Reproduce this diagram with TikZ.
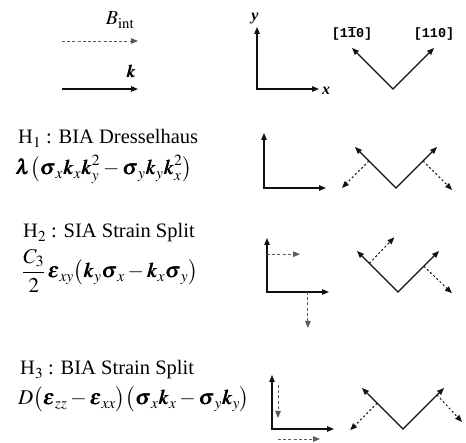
\documentclass[tikz,border=0pt]{standalone}
\usepackage{amsmath}
\usepackage{mathptmx}
\usepackage{bm}
\usepackage{fontspec}
\setmainfont{Liberation Serif}
\newfontfamily\dirfont{Liberation Mono}
\usetikzlibrary{arrows.meta,positioning,calc}
\definecolor{inkdark}{HTML}{111111}
\definecolor{fieldgray}{HTML}{5A5A5A}
\tikzset{
  axes/.style={{Triangle[length=7pt,width=5.5pt]}-{Triangle[length=7pt,width=5.5pt]},
    line width=1.1pt, color=inkdark},
  vec/.style={-{Triangle[length=7pt,width=5.5pt]}, line width=1.1pt, color=inkdark},
  % effective field arrows
  field/.style={-{Triangle[length=7pt,width=5.5pt]}, line width=0.9pt, color=fieldgray,
    dash pattern=on 3pt off 2.2pt},
  spin/.style={-{Triangle[length=7pt,width=5.5pt]}, line width=1pt, color=inkdark,
    dash pattern=on 2pt off 2.4pt},
  htext/.style={font=\fontsize{20.5}{23}\selectfont, inner sep=0pt, anchor=base west},
  mtext/.style={font=\fontsize{21}{24}\selectfont, inner sep=0pt, anchor=base west},
  lbl/.style={font=\fontsize{16}{18}\selectfont, inner sep=0pt},
  dirlbl/.style={font=\dirfont\bfseries\fontsize{13.5}{15}\selectfont, inner sep=0pt},
}

\begin{document}
\begin{tikzpicture}[x=1pt,y=-1pt]
  \useasboundingbox (0,0) rectangle (466,443);
  % legend
  \coordinate (bstart) at (62,41);
  \coordinate (bend) at (138,41);
  \coordinate (kstart) at (62,89);
  \coordinate (kend) at (138,89);
  \draw[field] (bstart) -- (bend);
  \draw[vec] (kstart) -- (kend);
  \node[lbl, anchor=base, font=\fontsize{20}{22}\selectfont] (blab) at (120,25) {$B_{\mathrm{int}}$};
  \node[lbl, anchor=base, font=\fontsize{18}{20}\selectfont] (klab) at (131,78) {$\bm{k}$};
  % axes and crystal directions, one set per row
  \foreach \r/\ox/\oy/\vx/\h in {0/257/89/393/62, 1/264/188/396/55,
                                 2/267/292/398/54, 3/272/429/403/54} {
    \coordinate (o\r) at (\ox,\oy);
    \coordinate (ya\r) at (\ox,\oy-\h);
    \coordinate (xa\r) at (\ox+62,\oy);
    \draw[axes] (ya\r) -- (o\r) -- (xa\r);
    \coordinate (v\r) at (\vx,\oy);
    \coordinate (lt\r) at (\vx-41,\oy-41);
    \coordinate (rt\r) at (\vx+41,\oy-41);
    \draw[axes] (lt\r) -- (v\r) -- (rt\r);
  }
  \node[lbl, anchor=base, font=\bfseries\itshape\fontsize{16}{18}\selectfont] (ylab) at ($(ya0)+(-2,-6)$) {y};
  \node[lbl, anchor=base west, font=\bfseries\itshape\fontsize{16}{18}\selectfont] (xlab) at ($(xa0)+(3,6)$) {x};
  \node[dirlbl, anchor=base] (d1m10) at ($(lt0)+(0,-10)$) {[1$\overline{\mbox{1}}$0]};
  \node[dirlbl, anchor=base] (d110) at ($(rt0)+(0,-10)$) {[110]};
  % H1 spin directions
  \coordinate (s1l) at ($(v1)!0.66!(lt1)$);
  \coordinate (e1l) at ($(s1l)+(-27,27)$);
  \coordinate (s1r) at ($(v1)!0.66!(rt1)$);
  \coordinate (e1r) at ($(s1r)+(29,29)$);
  \draw[spin] (s1l) -- (e1l);
  \draw[spin] (s1r) -- (e1r);
  % H2 field and spin directions
  \coordinate (f2y) at ($(o2)!0.7!(ya2)$);
  \coordinate (g2y) at ($(f2y)+(33,0)$);
  \coordinate (f2x) at ($(o2)!0.66!(xa2)$);
  \coordinate (g2x) at ($(f2x)+(0,36)$);
  \draw[field] (f2y) -- (g2y);
  \draw[field] (f2x) -- (g2x);
  \coordinate (s2l) at ($(v2)!0.7!(lt2)$);
  \coordinate (e2l) at ($(s2l)+(25,-26)$);
  \coordinate (s2r) at ($(v2)!0.63!(rt2)$);
  \coordinate (e2r) at ($(s2r)+(28,27)$);
  \draw[spin] (s2l) -- (e2l);
  \draw[spin] (s2r) -- (e2r);
  % H3 field and spin directions
  \coordinate (f3y) at ($(o3)+(6,-44)$);
  \coordinate (g3y) at ($(o3)+(6,-11)$);
  \coordinate (f3x) at ($(o3)+(6,10)$);
  \coordinate (g3x) at ($(o3)+(48,10)$);
  \draw[field] (f3y) -- (g3y);
  \draw[field] (f3x) -- (g3x);
  \coordinate (s3l) at ($(v3)!0.63!(lt3)$);
  \coordinate (e3l) at ($(s3l)+(-27,27)$);
  \coordinate (s3r) at ($(v3)!0.83!(rt3)$);
  \coordinate (e3r) at ($(s3r)+(25,27)$);
  \draw[spin] (s3l) -- (e3l);
  \draw[spin] (s3r) -- (e3r);
  % Hamiltonian terms
  \node[htext] (h1) at (18,144) {H$_1$ : BIA Dresselhaus};
  \node[mtext] (t1) at (15,175)
    {$\bm{\lambda}\bigl(\bm{\sigma}_x\bm{k}_x\bm{k}_y^2-\bm{\sigma}_y\bm{k}_y\bm{k}_x^2\bigr)$};
  \node[htext] (h2) at (23,238) {H$_2$ : SIA Strain Split};
  \node[mtext] (t2) at (22,278)
    {$\dfrac{C_3}{2}\,\bm{\varepsilon}_{xy}\bigl(\bm{k}_y\bm{\sigma}_x-\bm{k}_x\bm{\sigma}_y\bigr)$};
  \node[htext] (h3) at (20,375) {H$_3$ : BIA Strain Split};
  \node[mtext] (t3) at (18,405)
    {$D\bigl(\bm{\varepsilon}_{zz}-\bm{\varepsilon}_{xx}\bigr)\bigl(\bm{\sigma}_x\bm{k}_x-\bm{\sigma}_y\bm{k}_y\bigr)$};
\end{tikzpicture}
\end{document}
